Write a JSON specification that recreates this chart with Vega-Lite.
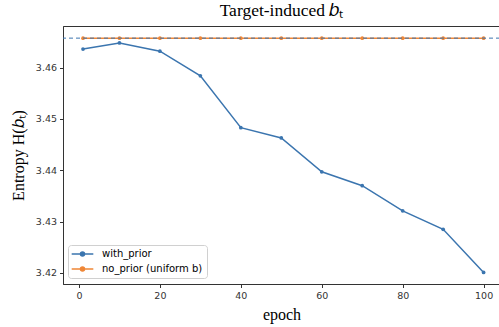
{
  "$schema": "https://vega.github.io/schema/vega-lite/v6.json",
  "autosize": {"type": "none"},
  "padding": {"left": 63, "top": 26, "right": 0, "bottom": 43},
  "width": 437,
  "height": 258,
  "background": "white",
  "title": {
    "text": "Target-induced 𝑏ₜ",
    "font": "Liberation Serif",
    "fontSize": 17.5,
    "fontWeight": "normal",
    "color": "#000",
    "anchor": "middle",
    "offset": 7
  },
  "config": {
    "view": {"stroke": "#333", "strokeWidth": 1},
    "axis": {
      "grid": false,
      "domainColor": "#333",
      "tickColor": "#333",
      "tickSize": 3.5,
      "labelFont": "DejaVu Sans",
      "labelFontSize": 9.5,
      "labelColor": "#333",
      "labelPadding": 3,
      "titleFont": "Liberation Serif",
      "titleFontSize": 16,
      "titleFontWeight": "normal",
      "titleColor": "#000"
    }
  },
  "datasets": {
    "series": [
      {"epoch": 1, "entropy": 3.4636, "series": "with_prior"},
      {"epoch": 10, "entropy": 3.4648, "series": "with_prior"},
      {"epoch": 20, "entropy": 3.4632, "series": "with_prior"},
      {"epoch": 30, "entropy": 3.4584, "series": "with_prior"},
      {"epoch": 40, "entropy": 3.4483, "series": "with_prior"},
      {"epoch": 50, "entropy": 3.4463, "series": "with_prior"},
      {"epoch": 60, "entropy": 3.4397, "series": "with_prior"},
      {"epoch": 70, "entropy": 3.4370, "series": "with_prior"},
      {"epoch": 80, "entropy": 3.4321, "series": "with_prior"},
      {"epoch": 90, "entropy": 3.4285, "series": "with_prior"},
      {"epoch": 100, "entropy": 3.4201, "series": "with_prior"},
      {"epoch": 1, "entropy": 3.465736, "series": "no_prior (uniform b)"},
      {"epoch": 10, "entropy": 3.465736, "series": "no_prior (uniform b)"},
      {"epoch": 20, "entropy": 3.465736, "series": "no_prior (uniform b)"},
      {"epoch": 30, "entropy": 3.465736, "series": "no_prior (uniform b)"},
      {"epoch": 40, "entropy": 3.465736, "series": "no_prior (uniform b)"},
      {"epoch": 50, "entropy": 3.465736, "series": "no_prior (uniform b)"},
      {"epoch": 60, "entropy": 3.465736, "series": "no_prior (uniform b)"},
      {"epoch": 70, "entropy": 3.465736, "series": "no_prior (uniform b)"},
      {"epoch": 80, "entropy": 3.465736, "series": "no_prior (uniform b)"},
      {"epoch": 90, "entropy": 3.465736, "series": "no_prior (uniform b)"},
      {"epoch": 100, "entropy": 3.465736, "series": "no_prior (uniform b)"}
    ],
    "ref": [{"value": 3.465736}]
  },
  "layer": [
    {
      "data": {"name": "series"},
      "mark": {"type": "line", "strokeWidth": 1.5, "clip": true},
      "encoding": {
        "x": {
          "field": "epoch", "type": "quantitative",
          "scale": {"domain": [-3.95, 104.05], "nice": false, "zero": false},
          "axis": {"values": [0, 20, 40, 60, 80, 100], "title": "epoch", "titlePadding": 6}
        },
        "y": {
          "field": "entropy", "type": "quantitative",
          "scale": {"domain": [3.41785, 3.4681], "nice": false, "zero": false},
          "axis": {"values": [3.42, 3.43, 3.44, 3.45, 3.46], "format": ".2f", "title": "Entropy H(𝑏ₜ)", "titlePadding": 9}
        },
        "color": {
          "field": "series", "type": "nominal",
          "scale": {"domain": ["with_prior", "no_prior (uniform b)"], "range": ["#3b75af", "#ef8636"]},
          "legend": {
            "title": null,
            "orient": "none",
            "legendX": 5,
            "legendY": 219,
            "direction": "vertical",
            "padding": 4,
            "rowPadding": 5,
            "strokeColor": "#d0d0d0",
            "fillColor": "rgba(255,255,255,0.8)",
            "cornerRadius": 3,
            "labelFont": "DejaVu Sans",
            "labelFontSize": 10,
            "labelColor": "#000",
            "labelOffset": 20,
            "symbolSize": 64,
            "symbolType": "M-1.33,0L4.08,0M0.875,0A0.5,0.5 0 1,0 1.875,0A0.5,0.5 0 1,0 0.875,0",
            "symbolStrokeWidth": 1.5,
            "encode": {
              "symbols": {
                "update": {
                  "fill": {"scale": "color", "field": "value"},
                  "stroke": {"scale": "color", "field": "value"}
                }
              }
            }
          }
        },
        "order": {"field": "epoch", "type": "quantitative"}
      }
    },
    {
      "data": {"name": "series"},
      "mark": {"type": "point", "filled": true, "size": 14, "opacity": 1},
      "encoding": {
        "x": {"field": "epoch", "type": "quantitative"},
        "y": {"field": "entropy", "type": "quantitative"},
        "color": {"field": "series", "type": "nominal", "legend": null}
      }
    },
    {
      "data": {"name": "ref"},
      "mark": {"type": "rule", "color": "#3b75af", "strokeWidth": 1, "strokeDash": [4, 3]},
      "encoding": {
        "y": {"field": "value", "type": "quantitative"}
      }
    }
  ]
}
